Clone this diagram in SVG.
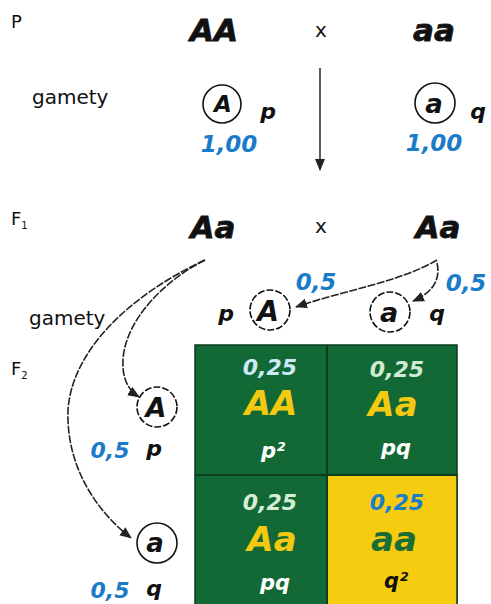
<svg xmlns="http://www.w3.org/2000/svg" width="491" height="604" viewBox="0 0 491 604">
<style>
.bi{font-family:"DejaVu Sans",Verdana,sans-serif;font-weight:bold;font-style:italic;text-anchor:middle}
.rg{font-family:"DejaVu Sans",Verdana,sans-serif;fill:#111}
.blk{fill:#111}
.heavy{stroke:#111;stroke-width:0.8}
.blue{fill:#1a7cc9}
.yel{fill:#f4c90f}
.wht{fill:#fff}
.circ{fill:none;stroke:#111;stroke-width:1.6}
.dash{stroke-dasharray:7 2}
.con{fill:none;stroke:#222;stroke-width:1.6;stroke-dasharray:8 1.5}
</style>
<defs>
<marker id="ah" markerUnits="userSpaceOnUse" markerWidth="14" markerHeight="12" refX="11" refY="5" orient="auto">
<path d="M0,0 L12,5 L0,10 Z" fill="#222"/>
</marker>
</defs>
<rect width="491" height="604" fill="#fff"/>

<g id="labels">
<text class="rg" x="11" y="28" font-size="18">P</text>
<text class="rg" x="32" y="104" font-size="20">gamety</text>
<text class="rg" x="11" y="225" font-size="18">F<tspan font-size="10" dy="4">1</tspan></text>
<text class="rg" x="29" y="325" font-size="20">gamety</text>
<text class="rg" x="11" y="375" font-size="18">F<tspan font-size="10" dy="4">2</tspan></text>
</g>

<g id="parentP">
<text class="bi blk heavy" x="214" y="41" font-size="31">AA</text>
<text class="rg" x="321" y="37" font-size="20" text-anchor="middle">x</text>
<text class="bi blk heavy" x="434" y="41" font-size="31">aa</text>
</g>

<g id="gameteP_A">
<circle class="circ" cx="222" cy="104" r="19"/>
<text class="bi blk" x="223" y="112" font-size="23">A</text>
<text class="bi blk" x="268" y="119" font-size="22">p</text>
<text class="bi blue" x="229" y="152" font-size="23">1,00</text>
</g>

<g id="gameteP_a">
<circle class="circ" cx="435" cy="103" r="20"/>
<text class="bi blk" x="434" y="113" font-size="26">a</text>
<text class="bi blk" x="478" y="119" font-size="22">q</text>
<text class="bi blue" x="434" y="151" font-size="23">1,00</text>
</g>

<g id="parentF1">
<text class="bi blk heavy" x="213" y="238" font-size="31">Aa</text>
<text class="rg" x="321" y="233" font-size="20" text-anchor="middle">x</text>
<text class="bi blk heavy" x="438" y="238" font-size="31">Aa</text>
</g>

<g id="gameteF1_A">
<text class="bi blue" x="316" y="290" font-size="23">0,5</text>
<text class="bi blk" x="226" y="321" font-size="22">p</text>
<circle class="circ dash" cx="270" cy="310" r="20"/>
<text class="bi blk" x="268" y="321" font-size="28">A</text>
</g>

<g id="gameteF1_a">
<text class="bi blue" x="466" y="291" font-size="23">0,5</text>
<circle class="circ dash" cx="390" cy="312" r="20"/>
<text class="bi blk" x="389" y="322" font-size="27">a</text>
<text class="bi blk" x="437" y="321" font-size="22">q</text>
</g>

<g id="gameteF2_A">
<circle class="circ dash" cx="157" cy="407" r="20"/>
<text class="bi blk" x="156" y="417" font-size="27">A</text>
<text class="bi blue" x="110" y="458" font-size="22">0,5</text>
<text class="bi blk" x="154" y="456" font-size="22">p</text>
</g>

<g id="gameteF2_a">
<circle class="circ" cx="157" cy="543" r="20"/>
<text class="bi blk" x="155" y="552" font-size="26">a</text>
<text class="bi blue" x="110" y="598" font-size="22">0,5</text>
<text class="bi blk" x="154" y="596" font-size="22">q</text>
</g>

<g id="grid">
<rect x="195" y="345" width="262" height="262" fill="#126936" stroke="#0b3d1f" stroke-width="1.5"/>
<rect x="327" y="475" width="130" height="132" fill="#f5cc10" stroke="#0b3d1f" stroke-width="1.5"/>
<line x1="327" y1="345" x2="327" y2="604" stroke="#0b3d1f" stroke-width="2"/>
<line x1="195" y1="475" x2="457" y2="475" stroke="#0b3d1f" stroke-width="2"/>
</g>

<g id="cellAA">
<text class="bi" x="270" y="375" font-size="22" fill="#cde9f7">0,25</text>
<text class="bi yel" x="271" y="415" font-size="34">AA</text>
<text class="bi wht" x="273" y="458" font-size="21">p²</text>
</g>
<g id="cellAa1">
<text class="bi" x="397" y="377" font-size="22" fill="#d3ead3">0,25</text>
<text class="bi yel" x="393" y="416" font-size="34">Aa</text>
<text class="bi wht" x="396" y="455" font-size="21">pq</text>
</g>
<g id="cellAa2">
<text class="bi" x="270" y="510" font-size="22" fill="#d7edd7">0,25</text>
<text class="bi yel" x="272" y="551" font-size="34">Aa</text>
<text class="bi wht" x="275" y="590" font-size="21">pq</text>
</g>
<g id="cellaa">
<text class="bi blue" x="397" y="510" font-size="22">0,25</text>
<text class="bi" x="394" y="551" font-size="34" fill="#1a6e35">aa</text>
<text class="bi blk" x="396" y="588" font-size="21">q²</text>
</g>

<g id="connectors">
<line x1="320" y1="68" x2="320" y2="170" stroke="#333" stroke-width="1.6" marker-end="url(#ah)"/>
<path class="con" d="M205,260 C165,280 125,320 123,360 C122,378 128,390 139,397" marker-end="url(#ah)"/>
<path class="con" d="M205,260 C130,295 72,350 68,410 C66,465 95,510 131,538" marker-end="url(#ah)"/>
<path class="con" d="M437,260 C400,282 345,290 296,307" marker-end="url(#ah)"/>
<path class="con" d="M437,263 C441,280 432,293 413,301" marker-end="url(#ah)"/>
</g>
</svg>
